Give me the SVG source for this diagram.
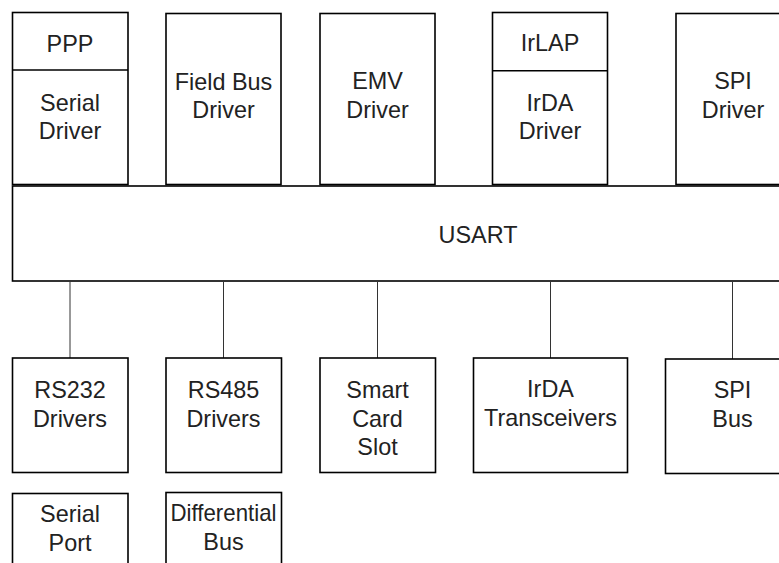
<svg xmlns="http://www.w3.org/2000/svg" width="779" height="563" viewBox="0 0 779 563">
<style>
.b{fill:#fff;stroke:#000;stroke-width:1.6}
.t{font-family:"Liberation Sans",Arial,sans-serif;font-size:23.4px;fill:#222;text-anchor:middle}
.c{stroke:#333;stroke-width:1;fill:none}
</style>
<rect width="779" height="563" fill="#fff"/>
<g id="serial-driver">
<rect class="b" x="12.5" y="12.5" width="115.5" height="172"/>
<line x1="12.5" y1="70" x2="128" y2="70" stroke="#000" stroke-width="1.6"/>
<text class="t" x="70" y="52.3">PPP</text>
<text class="t" x="70" y="111">Serial</text>
<text class="t" x="70" y="139.3">Driver</text>
</g>
<g id="fieldbus-driver">
<rect class="b" x="166" y="13.5" width="115" height="171"/>
<text class="t" x="223.5" y="90">Field Bus</text>
<text class="t" x="223.5" y="118.3">Driver</text>
</g>
<g id="emv-driver">
<rect class="b" x="320" y="13.5" width="115" height="171"/>
<text class="t" x="377.5" y="89.3">EMV</text>
<text class="t" x="377.5" y="118.3">Driver</text>
</g>
<g id="irda-driver">
<rect class="b" x="492.5" y="12.5" width="115" height="172"/>
<line x1="492.5" y1="70.7" x2="607.5" y2="70.7" stroke="#000" stroke-width="1.6"/>
<text class="t" x="550" y="50.7">IrLAP</text>
<text class="t" x="550" y="110.7">IrDA</text>
<text class="t" x="550" y="139">Driver</text>
</g>
<g id="spi-driver">
<rect class="b" x="676" y="13.5" width="115" height="171"/>
<text class="t" x="733" y="89.3">SPI</text>
<text class="t" x="733" y="118.3">Driver</text>
</g>
<g id="usart">
<rect class="b" x="12.5" y="186" width="800" height="95" stroke-width="2"/>
<text class="t" x="478" y="242.7">USART</text>
</g>
<g id="connectors">
<line class="c" x1="70" y1="282" x2="70" y2="358"/>
<line class="c" x1="223.5" y1="282" x2="223.5" y2="358"/>
<line class="c" x1="377.5" y1="282" x2="377.5" y2="358"/>
<line class="c" x1="550.5" y1="282" x2="550.5" y2="358"/>
<line class="c" x1="732.5" y1="282" x2="732.5" y2="359"/>
</g>
<g id="rs232">
<rect class="b" x="12.5" y="358" width="115.5" height="114.5"/>
<text class="t" x="70" y="397.7">RS232</text>
<text class="t" x="70" y="426.7">Drivers</text>
</g>
<g id="rs485">
<rect class="b" x="166" y="358" width="115.5" height="114.5"/>
<text class="t" x="223.5" y="397.7">RS485</text>
<text class="t" x="223.5" y="426.7">Drivers</text>
</g>
<g id="smartcard">
<rect class="b" x="320" y="358" width="115.5" height="114.5"/>
<text class="t" x="377.5" y="397.7">Smart</text>
<text class="t" x="377.5" y="426.7">Card</text>
<text class="t" x="377.5" y="455">Slot</text>
</g>
<g id="irda-transceivers">
<rect class="b" x="473.5" y="358" width="154" height="114.5"/>
<text class="t" x="550.5" y="396.7">IrDA</text>
<text class="t" x="550.5" y="425.7">Transceivers</text>
</g>
<g id="spi-bus">
<rect class="b" x="665.5" y="359" width="134" height="114.5"/>
<text class="t" x="732.5" y="398.3">SPI</text>
<text class="t" x="732.5" y="427.3">Bus</text>
</g>
<g id="serial-port">
<rect class="b" x="12.5" y="493.5" width="115.5" height="90"/>
<text class="t" x="70" y="522.3">Serial</text>
<text class="t" x="70" y="551">Port</text>
</g>
<g id="differential-bus">
<rect class="b" x="166" y="492.5" width="115.5" height="91"/>
<text class="t" x="223.5" y="520.7" textLength="106" lengthAdjust="spacingAndGlyphs">Differential</text>
<text class="t" x="223.5" y="550">Bus</text>
</g>
</svg>
